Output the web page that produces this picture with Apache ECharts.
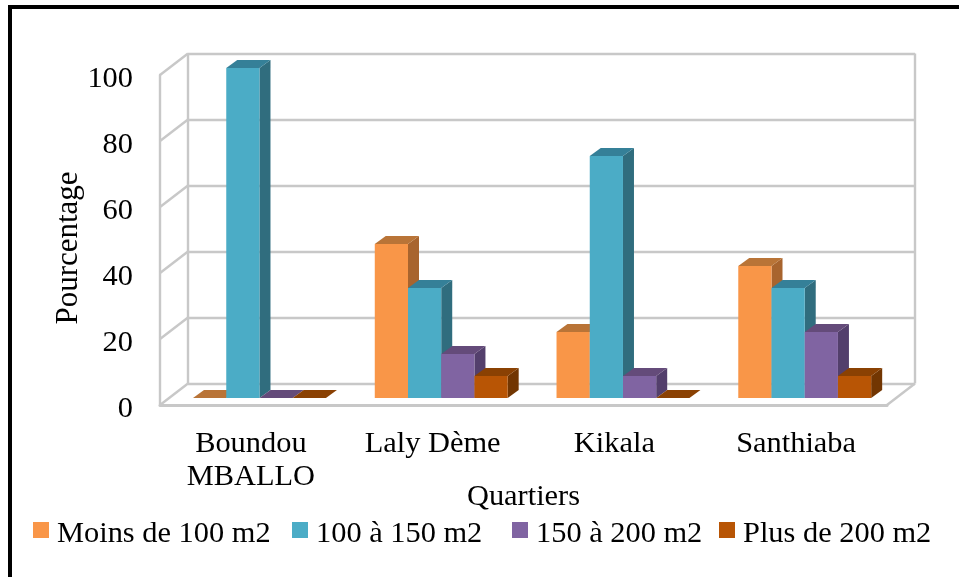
<!DOCTYPE html>
<html><head><meta charset="utf-8">
<style>html,body{margin:0;padding:0;background:#fff;overflow:hidden}#c{width:959px;height:577px}</style>
<script src="https://cdn.jsdelivr.net/npm/echarts@6/dist/echarts.min.js"></script>
</head><body><div id="c"></div>
<script>
const categories = ['Boundou\nMBALLO', 'Laly Dème', 'Kikala', 'Santhiaba'];
const seriesNames = ['Moins de 100 m2', '100 à 150 m2', '150 à 200 m2', 'Plus de 200 m2'];
const legendLefts = [33, 292, 512, 719];
const moins100 = [0, 46.7, 20, 40];
const de100a150 = [100, 33.3, 73.3, 33.3];
const de150a200 = [0, 13.3, 6.7, 20];
const plus200 = [0, 6.7, 0, 6.7];
const yTicks = [0, 20, 40, 60, 80, 100];
const fronts = ['#F99648', '#4BACC6', '#8064A2', '#B85505'];
const tops = ['#B97437', '#358098', '#644B7A', '#8A4103'];
const sides = ['#A8642E', '#306D7E', '#533F6C', '#723602'];

const FONT = 'Liberation Serif';
const GRID = '#C8C8C8';
const wallDx = 28, wallDy = -21.5;
const floorDx = 8.6, floorDy = -7;
const barDx = 11, barDy = -8;
const barRatio = 0.1828;

function barItem(si) {
  return function (params, api) {
    const cat = api.value(0), v = api.value(1);
    const base = api.coord([cat, 0]), top = api.coord([cat, v]);
    const w = api.size([1, 0])[0] * barRatio;
    const x0 = base[0] - 2 * w + si * w + floorDx, x1 = x0 + w;
    const yb = base[1] + floorDy, yt = top[1] + floorDy;
    const kids = [];
    const poly = (pts, fill) => kids.push({ type: 'polygon', shape: { points: pts }, style: { fill: fill } });
    if (v > 0) {
      poly([[x1, yb], [x1 + barDx, yb + barDy], [x1 + barDx, yt + barDy], [x1, yt]], sides[si]);
      poly([[x0, yb], [x1, yb], [x1, yt], [x0, yt]], fronts[si]);
    }
    poly([[x0, yt], [x1, yt], [x1 + barDx, yt + barDy], [x0 + barDx, yt + barDy]], tops[si]);
    return { type: 'group', children: kids };
  };
}
function wallItem(params, api) {
  const v = api.value(1);
  const a = api.coord([0, v]);
  const left = api.coord([0, 0])[0] - api.size([1, 0])[0] / 2;
  const right = left + api.size([1, 0])[0] * 4;
  const st = { stroke: GRID, lineWidth: 2.4, fill: 'none' };
  const kids = [{ type: 'line', shape: { x1: left, y1: a[1], x2: left + wallDx, y2: a[1] + wallDy }, style: st }];
  if (v === 0) {
    const t = api.coord([0, 100])[1];
    kids.push({ type: 'line', shape: { x1: right, y1: a[1], x2: right + wallDx, y2: a[1] + wallDy }, style: st });
    kids.push({ type: 'line', shape: { x1: left + wallDx, y1: a[1] + wallDy, x2: left + wallDx, y2: t + wallDy }, style: st });
    kids.push({ type: 'line', shape: { x1: right + wallDx, y1: a[1] + wallDy, x2: right + wallDx, y2: t + wallDy }, style: st });
  }
  return { type: 'group', children: kids };
}
const values = [moins100, de100a150, de150a200, plus200];
const option = {
  animation: false,
  backgroundColor: '#fff',
  textStyle: { fontFamily: FONT },
  graphic: [{ type: 'rect', silent: true, z: -1, shape: { x: 10, y: 7, width: 975, height: 610 }, style: { fill: 'none', stroke: '#000', lineWidth: 4 } }],
  legend: seriesNames.map((n, i) => ({
    data: [n], left: legendLefts[i], top: 519, icon: 'rect', itemWidth: 16, itemHeight: 16, padding: 0,
    formatter: '{a|{name}}',
    textStyle: { fontFamily: FONT, fontSize: 30.4, color: '#000',
      rich: { a: { fontFamily: FONT, fontSize: 30.4, color: '#000', padding: [8, 0, 0, 3] } } }
  })),
  grid: [
    { left: 160, top: 75, width: 727, height: 330 },
    { left: 188, top: 53.5, width: 727, height: 330 }
  ],
  xAxis: [
    { type: 'category', gridIndex: 0, data: categories, axisTick: { show: false },
      axisLine: { lineStyle: { color: GRID, width: 3 } },
      axisLabel: { fontFamily: FONT, fontSize: 30.4, color: '#000', lineHeight: 33, margin: 23, interval: 0 },
      name: 'Quartiers', nameLocation: 'middle', nameGap: 77, nameMoveOverlap: false, nameTextStyle: { fontFamily: FONT, fontSize: 30.4, color: '#000' } },
    { type: 'category', gridIndex: 1, data: categories, axisLabel: { show: false }, axisTick: { show: false }, axisLine: { show: false } }
  ],
  yAxis: [
    { type: 'value', gridIndex: 0, min: 0, max: 100, interval: 20, splitLine: { show: false }, axisTick: { show: false },
      axisLine: { show: true, lineStyle: { color: GRID, width: 2.4 } },
      axisLabel: { color: '#000', margin: 27, formatter: v => '{a|' + v + '}',
        rich: { a: { fontFamily: FONT, fontSize: 30.4, color: '#000', padding: [8, 0, 0, 0] } } },
      name: 'Pourcentage', nameLocation: 'middle', nameGap: 76, nameMoveOverlap: false, nameTextStyle: { fontFamily: FONT, fontSize: 31, color: '#000', padding: [0, 16, 0, 0] } },
    { type: 'value', gridIndex: 1, min: 0, max: 100, interval: 20, axisLabel: { show: false }, axisTick: { show: false }, axisLine: { show: false },
      splitLine: { show: true, lineStyle: { color: GRID, width: 2.4 } } }
  ],
  series: [
    { type: 'custom', name: 'walls', xAxisIndex: 0, yAxisIndex: 0, clip: false, silent: true, z: 1,
      data: yTicks.map(t => [0, t]), encode: { x: 0, y: 1 }, renderItem: wallItem },
    ...seriesNames.map((n, si) => ({
      type: 'custom', name: n, xAxisIndex: 0, yAxisIndex: 0, clip: false, z: 2 + si,
      itemStyle: { color: fronts[si] },
      data: values[si].map((v, i) => [i, v]), encode: { x: 0, y: 1 }, renderItem: barItem(si)
    }))
  ]
};
echarts.init(document.getElementById('c'), null, { renderer: 'canvas' }).setOption(option);
</script></body></html>
